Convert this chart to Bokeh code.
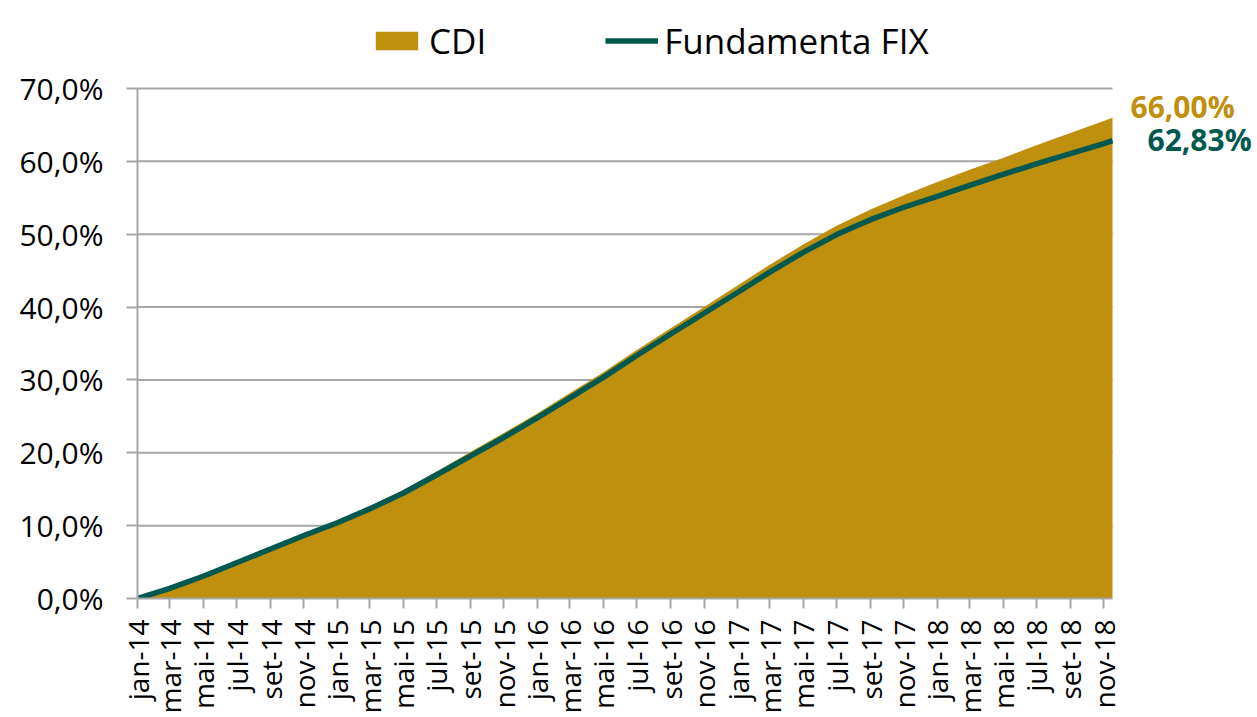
import pandas as pd
from math import pi
from bokeh.plotting import figure
from bokeh.models import (Range1d, FixedTicker, Legend, LegendItem, Label,
                          ColumnDataSource)
from bokeh.embed import file_html
from bokeh.resources import INLINE

# ---------------- data ----------------
dates = ["2014-01-01", "2014-03-01", "2014-05-01", "2014-07-01", "2014-09-01", "2014-11-01",
         "2015-01-01", "2015-03-01", "2015-05-01", "2015-07-01", "2015-09-01", "2015-11-01",
         "2016-01-01", "2016-03-01", "2016-05-01", "2016-07-01", "2016-09-01", "2016-11-01",
         "2017-01-01", "2017-03-01", "2017-05-01", "2017-07-01", "2017-09-01", "2017-11-01",
         "2018-01-01", "2018-03-01", "2018-05-01", "2018-07-01", "2018-09-01", "2018-11-01",
         "2018-11-17"]
cdi = [0.0, 1.5, 3.2, 5.05, 7.0, 8.9,
       10.7, 12.65, 14.85, 17.4, 20.1, 22.7,
       25.4, 28.2, 31.05, 34.1, 37.1, 40.0,
       42.95, 45.8, 48.6, 51.15, 53.4, 55.35,
       57.15, 58.85, 60.45, 62.2, 63.9, 65.55,
       66.00]
fix = [0.0, 1.4, 3.05, 4.9, 6.8, 8.65,
       10.4, 12.3, 14.45, 16.95, 19.55, 22.1,
       24.8, 27.55, 30.35, 33.35, 36.3, 39.15,
       42.0, 44.8, 47.5, 49.95, 52.0, 53.7,
       55.2, 56.7, 58.2, 59.65, 61.05, 62.45,
       62.83]

tick_dates = ["2014-01-01", "2014-03-01", "2014-05-01", "2014-07-01", "2014-09-01", "2014-11-01",
              "2015-01-01", "2015-03-01", "2015-05-01", "2015-07-01", "2015-09-01", "2015-11-01",
              "2016-01-01", "2016-03-01", "2016-05-01", "2016-07-01", "2016-09-01", "2016-11-01",
              "2017-01-01", "2017-03-01", "2017-05-01", "2017-07-01", "2017-09-01", "2017-11-01",
              "2018-01-01", "2018-03-01", "2018-05-01", "2018-07-01", "2018-09-01", "2018-11-01"]
tick_labels = ["jan-14", "mar-14", "mai-14", "jul-14", "set-14", "nov-14",
               "jan-15", "mar-15", "mai-15", "jul-15", "set-15", "nov-15",
               "jan-16", "mar-16", "mai-16", "jul-16", "set-16", "nov-16",
               "jan-17", "mar-17", "mai-17", "jul-17", "set-17", "nov-17",
               "jan-18", "mar-18", "mai-18", "jul-18", "set-18", "nov-18"]
y_ticks = [0, 10, 20, 30, 40, 50, 60, 70]
y_labels = ["0,0%", "10,0%", "20,0%", "30,0%", "40,0%", "50,0%", "60,0%", "70,0%"]
series_names = ["CDI", "Fundamenta FIX"]
end_labels = ["66,00%", "62,83%"]

GOLD = "#BF8F0E"
TEAL = "#00594E"
GRAY = "#A6A6A6"
FONT = "Open Sans"

# ---------------- layout (pixels) ----------------
W, H = 1257, 717
LEFT, DATA_RIGHT, TOP70, BOTTOM = 137, 1112, 88, 598


def to_ms(d):
    return pd.Timestamp(d).value / 1e6


x_ms = [to_ms(d) for d in dates]
tick_ms = [to_ms(d) for d in tick_dates]

# extend the ranges so that the legend and the end labels sit inside the frame
x0, x1 = x_ms[0], x_ms[-1]
x_end = x0 + (x1 - x0) * (W - LEFT) / (DATA_RIGHT - LEFT)
y_top = y_ticks[-1] * BOTTOM / (BOTTOM - TOP70)

src = ColumnDataSource(dict(x=x_ms, cdi=cdi, fix=fix))

p = figure(width=W, height=H, x_axis_type="datetime",
           x_range=Range1d(x0, x_end), y_range=Range1d(0, y_top),
           output_backend="svg", toolbar_location=None,
           min_border_left=LEFT, min_border_right=0,
           min_border_top=0, min_border_bottom=H - BOTTOM)
p.outline_line_color = None
p.background_fill_color = "white"
p.border_fill_color = "white"
p.xgrid.visible = False
p.ygrid.visible = False

# horizontal gridlines limited to the data span
grid_y = y_ticks[1:]
p.segment(x0=[x0] * len(grid_y), x1=[x1] * len(grid_y), y0=grid_y, y1=grid_y,
          line_color=GRAY, line_width=2)

area = p.varea(x="x", y1=0, y2="cdi", source=src, fill_color=GOLD)
line = p.line(x="x", y="fix", source=src, line_color=TEAL, line_width=5.5,
              line_join="round")

# axes
p.xaxis.bounds = (x0, x1)
p.xaxis.ticker = FixedTicker(ticks=tick_ms)
p.xaxis.major_label_overrides = {t: l for t, l in zip(tick_ms, tick_labels)}
p.xaxis.major_label_orientation = pi / 2
p.xaxis.major_label_text_font = FONT
p.xaxis.major_label_text_font_size = "28px"
p.xaxis.major_label_text_color = "black"
p.xaxis.major_label_standoff = 11
p.xaxis.major_tick_out = 10
p.xaxis.major_tick_in = 0
p.xaxis.minor_tick_out = 0
p.xaxis.minor_tick_in = 0
p.xaxis.axis_line_color = GRAY
p.xaxis.axis_line_width = 2
p.xaxis.major_tick_line_color = GRAY
p.xaxis.major_tick_line_width = 2

p.yaxis.bounds = (y_ticks[0], y_ticks[-1])
p.yaxis.ticker = FixedTicker(ticks=y_ticks)
p.yaxis.major_label_overrides = {t: l for t, l in zip(y_ticks, y_labels)}
p.yaxis.major_label_text_font = FONT
p.yaxis.major_label_text_font_size = "30px"
p.yaxis.major_label_text_color = "black"
p.yaxis.major_label_standoff = 23
p.yaxis.major_tick_out = 11
p.yaxis.major_tick_in = 0
p.yaxis.minor_tick_out = 0
p.yaxis.minor_tick_in = 0
p.yaxis.axis_line_color = GRAY
p.yaxis.axis_line_width = 2
p.yaxis.major_tick_line_color = GRAY
p.yaxis.major_tick_line_width = 2

# legend (inside the enlarged frame, above the 70% line)
legend = Legend(items=[LegendItem(label=series_names[0], renderers=[area]),
                       LegendItem(label=series_names[1], renderers=[line])],
                orientation="horizontal", location=(370 - LEFT, BOTTOM - 64),
                glyph_width=53, glyph_height=23, label_standoff=6, spacing=119,
                padding=0, margin=0, border_line_color=None,
                background_fill_alpha=0,
                label_text_font=FONT, label_text_font_size="35px",
                label_text_color="black")
p.add_layout(legend, "center")

# end labels
p.add_layout(Label(x=x1, y=cdi[-1], x_offset=18, y_offset=11,
                   text=end_labels[0], text_color=GOLD, text_font=FONT,
                   text_font_size="30px", text_font_style="bold",
                   text_baseline="middle", text_align="left"))
p.add_layout(Label(x=x1, y=fix[-1], x_offset=35, y_offset=1,
                   text=end_labels[1], text_color=TEAL, text_font=FONT,
                   text_font_size="30px", text_font_style="bold",
                   text_baseline="middle", text_align="left"))

open("out.html", "w").write(file_html(p, INLINE))
